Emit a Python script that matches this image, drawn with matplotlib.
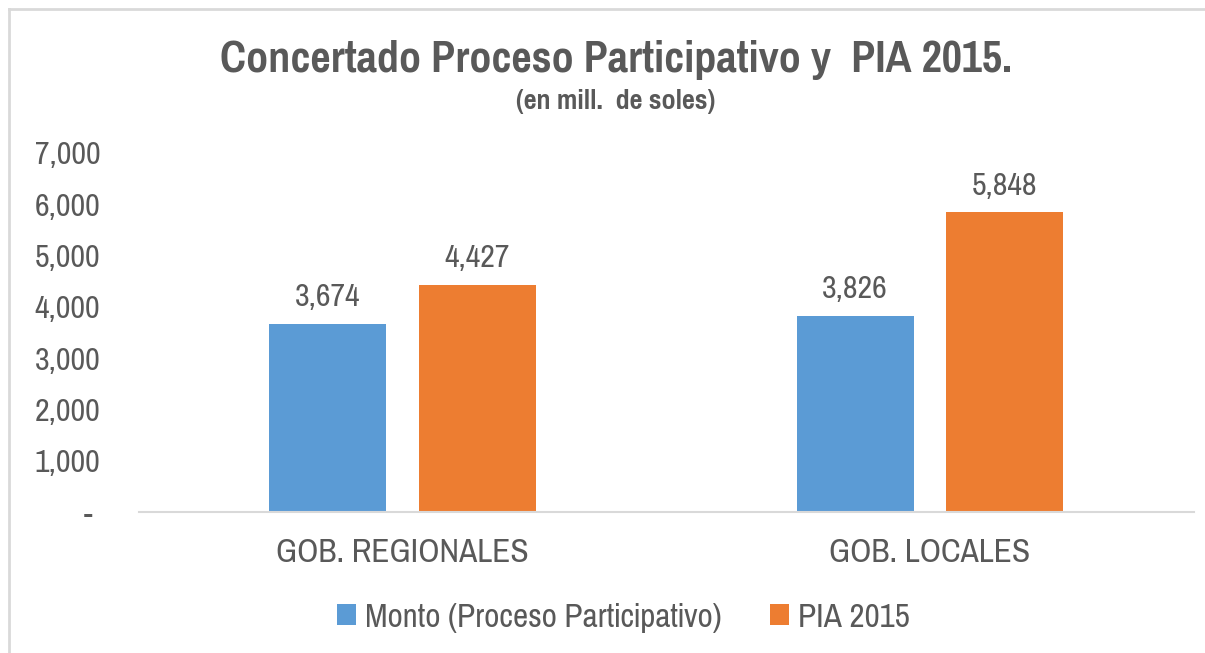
import matplotlib
matplotlib.use("Agg")
import matplotlib.pyplot as plt
from matplotlib.ticker import FuncFormatter, MultipleLocator
from matplotlib.patches import Patch
from matplotlib.lines import Line2D
import numpy as np

categories = ["GOB. REGIONALES", "GOB. LOCALES"]
monto_pp = [3674, 3826]
pia_2015 = [4427, 5848]
series_names = ["Monto (Proceso Participativo)", "PIA 2015"]

FONT = ["Pragati Narrow", "Liberation Sans", "DejaVu Sans"]
plt.rcParams["font.family"] = FONT
TXT = "#595959"
BLUE = "#5B9BD5"
ORANGE = "#ED7D31"
GRID = "#D9D9D9"

fig = plt.figure(figsize=(12.05, 6.53), dpi=100)
ax = fig.add_axes([0.1154, 0.2159, 0.8751, 0.5498])

x = np.arange(len(categories))
w = 0.222
off = 0.142
b1 = ax.bar(x - off, monto_pp, w, color=BLUE, label=series_names[0])
b2 = ax.bar(x + off, pia_2015, w, color=ORANGE, label=series_names[1])

for bars, vals in ((b1, monto_pp), (b2, pia_2015)):
    for r, v in zip(bars, vals):
        ax.annotate(f"{v:,}", (r.get_x() + r.get_width() / 2, v),
                    xytext=(0, 9), textcoords="offset points",
                    ha="center", va="bottom", fontsize=25, color=TXT)

ax.set_xlim(-0.5, 1.5)
ax.set_ylim(0, 7000)
ax.yaxis.set_major_locator(MultipleLocator(1000))
ax.yaxis.set_major_formatter(FuncFormatter(lambda v, p: "- " if v == 0 else f"{int(v):,}"))
ax.set_xticks(x)
ax.set_xticklabels(categories)
ax.tick_params(axis="y", length=0, labelsize=25, labelcolor=TXT, pad=28)
ax.tick_params(axis="x", length=0, labelsize=26, labelcolor=TXT, pad=19)

for s in ("top", "right", "left"):
    ax.spines[s].set_visible(False)
ax.spines["bottom"].set_color(GRID)
ax.spines["bottom"].set_linewidth(1.5)

fig.text(0.511, 0.908, "Concertado Proceso Participativo y  PIA 2015.",
         ha="center", va="center", fontsize=34.5, fontweight="bold", color=TXT)
fig.text(0.511, 0.845, "(en mill.  de soles)", ha="center", va="center",
         fontsize=22, fontweight="bold", color=TXT)

handles = [Patch(facecolor=BLUE), Patch(facecolor=ORANGE)]
fig.legend(handles, series_names, loc="center", bbox_to_anchor=(0.5175, 0.053),
           ncol=2, frameon=False, fontsize=26, labelcolor=TXT,
           handlelength=0.52, handleheight=0.52, handletextpad=0.25, columnspacing=1.35)

# outer chart frame (top and left edges)
fig.add_artist(Line2D([9 / 1205, 1.0], [1 - 9 / 653, 1 - 9 / 653],
                      transform=fig.transFigure, color=GRID, lw=2))
fig.add_artist(Line2D([9 / 1205, 9 / 1205], [0.0, 1 - 9 / 653],
                      transform=fig.transFigure, color=GRID, lw=2))

fig.savefig("out.png", dpi=100)
